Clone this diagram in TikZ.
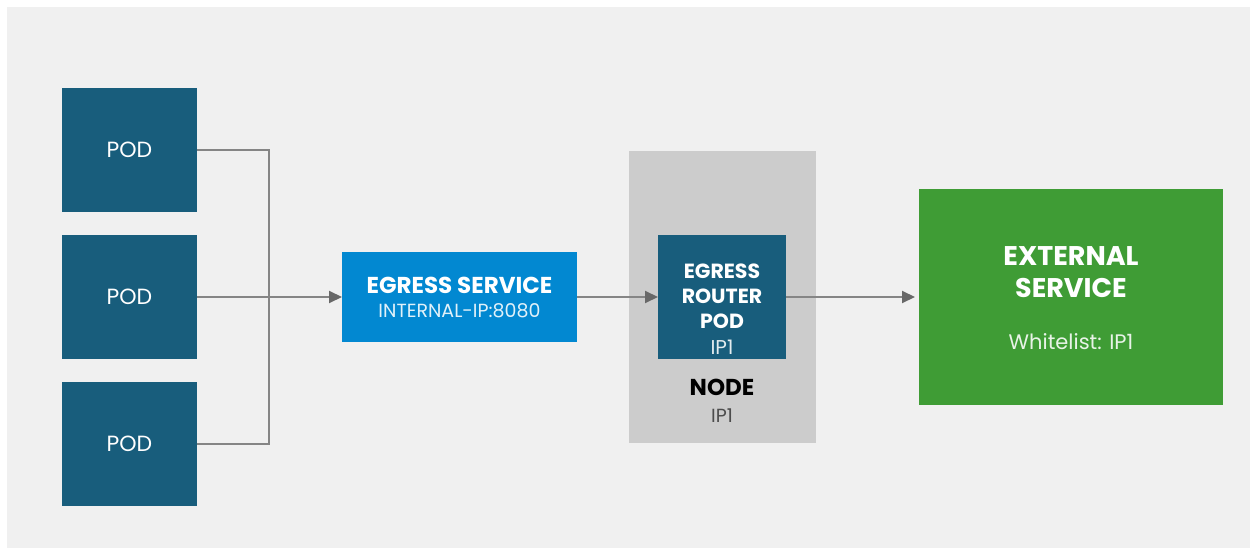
\documentclass[tikz,border=0pt]{standalone}
\usepackage{fontspec}
\setmainfont{Poppins}
\usetikzlibrary{arrows.meta}

\definecolor{canvas}{HTML}{F0F0F0}
\definecolor{podblue}{HTML}{185D7C}
\definecolor{svcblue}{HTML}{0288D1}
\definecolor{hostgray}{HTML}{CCCCCC}
\definecolor{extgreen}{HTML}{3F9C35}
\definecolor{wire}{HTML}{858585}
\definecolor{tipgray}{HTML}{686868}

\tikzset{
  box/.style={draw=none, inner sep=0pt, outer sep=0pt},
  podbox/.style={box, fill=podblue, minimum width=135pt, minimum height=124pt,
    text=white, font=\fontsize{22}{26}\selectfont},
  wirestyle/.style={draw=wire, line width=2pt},
  flow/.style={wirestyle, -{Triangle[length=13pt,width=12pt,color=tipgray]}},
  title/.style={text=white, font=\bfseries\fontsize{23}{26}\selectfont},
  sub/.style={text=white!88!svcblue, font=\fontsize{19}{22}\selectfont},
}

\begin{document}
\begin{tikzpicture}[x=1pt,y=-1pt]
  \useasboundingbox (0,0) rectangle (1250,548);
  \fill[canvas] (7,7) rectangle (1250,548);

  % client pods
  \node[podbox] (p1) at (129.5,150) {POD};
  \node[podbox] (p2) at (129.5,297) {POD};
  \node[podbox] (p3) at (129.5,444) {POD};

  % egress service
  \node[box, fill=svcblue, minimum width=235pt, minimum height=90pt] (svc) at (459.5,297) {};
  \node[title] (svct) at (459.5,285) {EGRESS SERVICE};
  \node[sub] (svcs) at (459.5,311) {INTERNAL-IP:8080};

  % host node with the router pod
  \node[box, fill=hostgray, minimum width=187pt, minimum height=292pt] (host) at (722.5,297) {};
  \node[box, fill=podblue, minimum width=128pt, minimum height=124pt] (router) at (722,297) {};
  \node[text=white, font=\bfseries\fontsize{20.5}{25}\selectfont, align=center] (routert) at (722,296) {EGRESS\\ROUTER\\POD};
  \node[text=white!88!podblue, font=\fontsize{20}{24}\selectfont] (routerip) at (722,347) {IP1};
  \node[text=black, font=\bfseries\fontsize{23}{26}\selectfont] (hostt) at (722,387) {NODE};
  \node[text=black!70, font=\fontsize{19}{22}\selectfont] (hostip) at (722,416) {IP1};

  % external service
  \node[box, fill=extgreen, minimum width=304pt, minimum height=216pt] (ext) at (1071,297) {};
  \node[text=white, font=\bfseries\fontsize{27}{32}\selectfont, align=center] (extt) at (1071,272) {EXTERNAL\\SERVICE};
  \node[text=white!88!extgreen, font=\fontsize{21}{24}\selectfont] (exts) at (1071,342) {Whitelist: IP1};

  % connectors
  \coordinate (merge) at (269,297);
  \draw[wirestyle] (p1.east) -| (merge);
  \draw[wirestyle] (p3.east) -| (merge);
  \draw[flow] (p2.east) -- (svc.west);
  \draw[flow] (svc.east) -- (router.west);
  \draw[flow, shorten >=4pt] (router.east) -- (ext.west);
\end{tikzpicture}
\end{document}
